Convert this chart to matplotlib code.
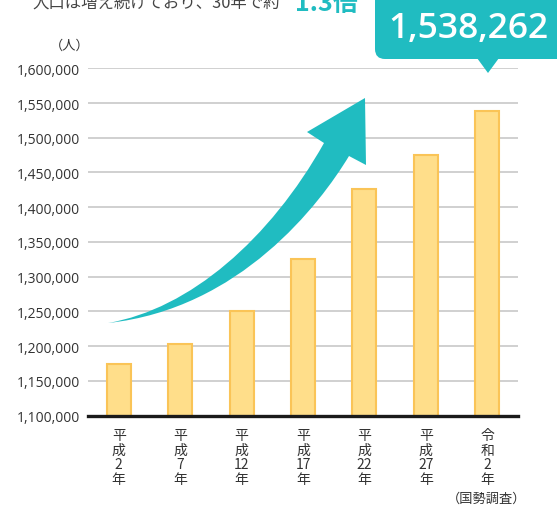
import matplotlib
matplotlib.use('Agg')
import matplotlib.pyplot as plt
from matplotlib.path import Path
from matplotlib.patches import PathPatch, FancyBboxPatch, Polygon
from matplotlib.ticker import FuncFormatter
from matplotlib.transforms import Affine2D

# data
years = ['平\n成\n2\n年', '平\n成\n7\n年', '平\n成\n12\n年', '平\n成\n17\n年',
         '平\n成\n22\n年', '平\n成\n27\n年', '令\n和\n2\n年']
population = [1174000, 1203000, 1250000, 1326000, 1425500, 1475000, 1538262]
y_ticks = list(range(1100000, 1600001, 50000))

W, H = 557, 506
TEAL = '#20BCC1'
JP = ['Noto Sans CJK JP', 'DejaVu Sans']
NUM = ['Open Sans', 'Noto Sans CJK JP']

plt.rcParams['font.family'] = NUM

fig = plt.figure(figsize=(W / 100, H / 100), dpi=100)
# pixel transform with origin at top-left, for the decorations
pt = Affine2D().scale(1 / 100, -1 / 100).translate(0, H / 100) + fig.dpi_scale_trans

ax = fig.add_axes([88 / W, 1 - 416.5 / H, 430 / W, (416.5 - 69.3) / H])
x = list(range(len(years)))
ax.bar(x, population, width=0.39, color='#FFDE8A', edgecolor='#FAC457',
       linewidth=1.5, zorder=2)
ax.set_xlim(-0.5, 6.5)
ax.set_ylim(y_ticks[0], y_ticks[-1])
ax.set_yticks(y_ticks)
ax.yaxis.set_major_formatter(FuncFormatter(lambda v, p: f'{int(v):,}'))
ax.grid(axis='y', color='#C8C8C8', linewidth=1.2, zorder=0)
ax.set_axisbelow(True)
for s in ['top', 'right', 'left']:
    ax.spines[s].set_visible(False)
ax.spines['bottom'].set_linewidth(2.4)
ax.spines['bottom'].set_color('#1a1a1a')
ax.spines['bottom'].set_zorder(3)
ax.tick_params(axis='y', length=0, pad=6, labelsize=10, labelcolor='#333333')
ax.set_xticks(x)
ax.set_xticklabels(years, linespacing=1.05, family=JP, fontsize=10,
                   color='#333333')
ax.tick_params(axis='x', length=0, pad=9)

# curved arrow
verts = [(108, 324), (190, 310), (270, 240), (324, 144),
         (307, 133), (365, 99), (366, 166), (349, 157),
         (320, 205), (240, 310), (108, 324), (108, 324)]
codes = [Path.MOVETO, Path.CURVE4, Path.CURVE4, Path.CURVE4,
         Path.LINETO, Path.LINETO, Path.LINETO, Path.LINETO,
         Path.CURVE4, Path.CURVE4, Path.CURVE4, Path.CLOSEPOLY]
fig.patches.append(PathPatch(Path(verts, codes), facecolor=TEAL,
                             edgecolor='none', transform=pt))

# callout with the latest value
fig.patches.append(FancyBboxPatch((375, -20), 200, 80,
                                  boxstyle='round,pad=0,rounding_size=10',
                                  facecolor=TEAL, edgecolor='none', transform=pt))
fig.patches.append(Polygon([(477, 59), (499, 59), (488, 74)], closed=True,
                           facecolor=TEAL, edgecolor='none', transform=pt))
fig.text(468, 29, f'{population[-1]:,}', transform=pt, ha='center', va='center',
         color='white', fontsize=25.5, fontweight='semibold', family=NUM)

# headline, cut off by the top of the picture
fig.text(32, 8, '人口は増え続けており、30年で約', transform=pt, ha='left',
         va='baseline', fontsize=11.8, color='#444444', family=JP)
fig.text(295, 11, '1.3倍', transform=pt, ha='left', va='baseline',
         fontsize=18, fontweight='bold', color=TEAL, family=JP)

fig.text(70, 46, '（人）', transform=pt, ha='center', va='center',
         fontsize=9.5, color='#333333', family=JP)
fig.text(526, 499, '（国勢調査）', transform=pt, ha='right', va='center',
         fontsize=9.5, color='#333333', family=JP)

fig.savefig('out.png', dpi=100)
